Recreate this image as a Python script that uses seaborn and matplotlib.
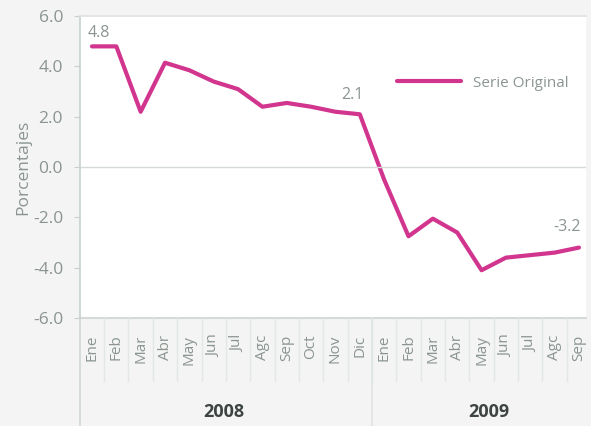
import numpy as np
import pandas as pd
import matplotlib
matplotlib.use("Agg")
import matplotlib.pyplot as plt
import seaborn as sns

months = ["Ene", "Feb", "Mar", "Abr", "May", "Jun", "Jul", "Agc", "Sep", "Oct", "Nov", "Dic",
          "Ene", "Feb", "Mar", "Abr", "May", "Jun", "Jul", "Agc", "Sep"]
years = ["2008", "2009"]
values = [4.8, 4.8, 2.2, 4.15, 3.85, 3.4, 3.1, 2.4, 2.55, 2.4, 2.2, 2.1,
          -0.5, -2.75, -2.05, -2.6, -4.1, -3.6, -3.5, -3.4, -3.2]
series_name = "Serie Original"
annot_idx = [0, 11, 20]

sns.set_theme(style="white")
plt.rcParams['font.family'] = ['Open Sans', 'DejaVu Sans']

df = pd.DataFrame({"idx": np.arange(len(values)), "val": values, "serie": series_name})

fig = plt.figure(figsize=(5.91, 4.26), dpi=100)
fig.patch.set_facecolor("#f3f4f3")
ax = fig.add_axes([0.135, 0.2535, 0.857, 0.7085])
ax.set_facecolor("white")

line_col = "#d2358e"
sns.lineplot(data=df, x="idx", y="val", hue="serie", palette=[line_col], linewidth=3.0, ax=ax)

ax.set_xlim(-0.5, 20.3)
ax.set_ylim(-6, 6)
grey = "#8b9590"
ax.set_yticks(np.arange(-6, 7, 2))
ax.set_yticklabels([f"{v:.1f}" for v in np.arange(-6, 7, 2)], color=grey, fontsize=12.5)
ax.tick_params(axis="y", length=4, width=0.8, color="#c8cfcc", pad=8, left=True)
ax.set_xticks(np.arange(len(months)))
ax.set_xticklabels(months, rotation=90, color=grey, fontsize=11)
ax.tick_params(axis="x", length=0, pad=12)
ax.set_xlabel("")
ax.set_ylabel("Porcentajes", color=grey, fontsize=12.5, labelpad=1)

for s in ["right", "bottom"]:
    ax.spines[s].set_visible(False)
ax.spines["left"].set_color("#c8d2ce")
ax.spines["left"].set_linewidth(1.2)
ax.spines["top"].set_color("#dfe3e1")
ax.spines["top"].set_linestyle((0, (2, 1)))
ax.axhline(0, color="#d5dad8", lw=1)
ax.axhline(-6, color="#d5dad8", lw=1.5, clip_on=False)

# category separators below the axis
trans = ax.get_xaxis_transform()
for i in range(len(months) - 1):
    ax.plot([i + 0.5, i + 0.5], [0, -0.21], transform=trans, color="#e3e7e5", lw=1, clip_on=False)
ax.plot([-0.5, -0.5], [0, -0.36], transform=trans, color="#d0d7d4", lw=1.2, clip_on=False)
ax.plot([11.5, 11.5], [0, -0.36], transform=trans, color="#e0e4e2", lw=1.2, clip_on=False)

ax.text(5.4, -0.31, years[0], transform=trans, ha="center", va="center",
        fontsize=13, fontweight="bold", color="#3d4441")
ax.text(16.3, -0.31, years[1], transform=trans, ha="center", va="center",
        fontsize=13, fontweight="bold", color="#3d4441")

offsets = {0: (0.3, 0.55), 11: (-0.3, 0.75), 20: (-0.5, 0.8)}
for i in annot_idx:
    dx, dy = offsets[i]
    ax.text(i + dx, values[i] + dy, f"{values[i]:.1f}", ha="center", va="center",
            fontsize=11.5, color=grey)

leg = ax.legend(loc="center left", bbox_to_anchor=(0.672, 0.805), bbox_transform=fig.transFigure,
                frameon=False, fontsize=11, handlelength=4.2, handletextpad=0.75,
                borderpad=0, borderaxespad=0)
for t in leg.get_texts():
    t.set_color(grey)
for h in leg.get_lines():
    h.set_linewidth(3.0)

fig.savefig("out.png", dpi=100, facecolor=fig.get_facecolor())
